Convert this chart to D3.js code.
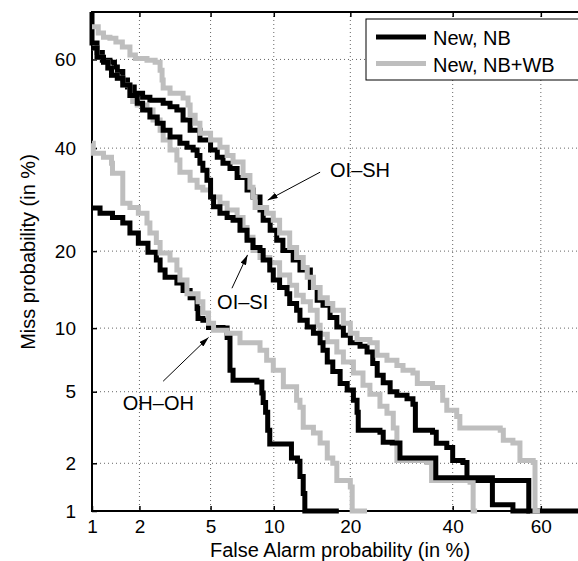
<!DOCTYPE html>
<html>
<head>
<meta charset="utf-8">
<script src="https://cdn.jsdelivr.net/npm/d3@7"></script>
<style>
  body { margin: 0; background: #fff; }
  svg { display: block; }
</style>
</head>
<body>
<div id="chart"></div>
<script>
// tick values (in %)
const faTicks = [1, 2, 5, 10, 20, 40, 60];
const missTicks = [1, 2, 5, 10, 20, 40, 60];

// DET curves, [false alarm %, miss %]
const oiShNb = [[1.0,70],[1.0,63.6],[1.08,61.5],[1.17,59.8],[1.31,59.4],[1.40,58.3],[1.46,57.3],[1.58,55.4],[1.69,53.8],[1.86,52.4],[2.09,51.5],[2.31,50.8],[2.76,50.1],[3.02,49.3],[3.30,48.6],[3.57,46.3],[3.90,44.0],[4.40,41.8],[5.0,39.6],[5.41,38.0],[5.78,36.7],[6.26,35.6],[6.78,33.7],[7.56,31.1],[8.06,29.7],[8.68,27.2],[8.97,25.3],[9.64,23.5],[10.3,21.8],[10.95,20.1],[12.1,18.6],[12.9,17.1],[14.2,14.7],[15.1,13.1],[15.9,12.5],[16.9,11.1],[17.9,10.1],[18.9,9.3],[20.0,8.6],[21.6,8.3],[22.8,7.8],[23.8,6.9],[24.6,6.05],[25.7,5.55],[27.0,5.0],[28.3,4.8],[30.3,4.6],[31.5,4.3],[32.0,3.11],[35.6,3.03],[36.4,2.62],[38.7,2.48],[40.0,2.08],[42.3,2.02],[43.2,1.57],[57.0,1.57],[57.3,1.0],[72,1.0]];
const oiShWb = [[1.0,67],[1.1,65.7],[1.19,64.8],[1.31,64.6],[1.43,63.8],[1.57,62.7],[1.75,61.0],[1.89,60.2],[2.22,59.8],[2.48,59.4],[2.65,57.6],[2.72,55.4],[2.76,53.6],[3.02,52.4],[3.57,51.3],[3.8,49.7],[3.9,47.4],[4.15,45.6],[4.4,43.3],[5.0,41.8],[5.58,40.2],[6.06,38.4],[6.48,37.0],[7.24,34.1],[7.8,31.7],[8.06,29.7],[8.24,27.7],[9.3,26.6],[9.95,25.3],[10.6,23.0],[11.7,20.6],[12.5,19.0],[13.3,17.5],[13.8,16.1],[14.6,14.7],[15.5,13.4],[16.5,12.7],[17.3,11.9],[18.9,10.5],[20.0,9.5],[21.1,8.9],[23.3,8.6],[24.6,7.55],[26.4,7.15],[28.3,6.75],[29.5,6.4],[31.5,6.2],[32.4,5.5],[35.6,5.25],[37.8,4.51],[38.7,4.0],[40.9,3.7],[41.6,3.2],[50.8,3.11],[51.5,2.73],[53.7,2.63],[55.3,2.08],[58.3,2.02],[58.7,1.0],[59.8,1.0]];
const oiSiNb = [[1.0,62.5],[1.08,60.5],[1.19,59.4],[1.27,58.1],[1.34,56.5],[1.46,55.8],[1.58,54.3],[1.75,51.9],[1.94,50.1],[2.09,48.6],[2.31,47.0],[2.55,45.6],[2.76,44.0],[3.02,42.5],[3.43,41.1],[3.75,40.2],[4.05,39.6],[4.25,38.4],[4.40,36.7],[4.56,35.2],[4.79,33.1],[5.0,29.7],[5.18,27.8],[5.58,26.6],[6.06,25.8],[6.48,25.3],[7.0,23.5],[7.56,21.8],[8.06,20.6],[8.68,20.1],[8.97,18.6],[9.6,17.1],[9.95,15.7],[10.6,14.7],[11.4,13.9],[11.7,12.7],[12.5,11.9],[12.9,10.8],[13.8,10.1],[14.6,9.5],[15.5,8.6],[15.9,7.96],[16.5,7.0],[17.3,6.3],[18.4,5.5],[19.5,5.1],[20.5,4.51],[21.1,3.9],[21.3,3.11],[25.1,3.03],[25.7,2.66],[27.4,2.63],[28.9,2.15],[36.3,2.12],[36.3,1.63],[49.0,1.53],[49.0,1.1],[53.7,1.0],[57.6,1.0]];
const oiSiWb = [[1.0,62.5],[1.08,60.5],[1.19,59.4],[1.27,58.1],[1.34,56.5],[1.46,55.8],[1.58,54.3],[1.75,51.9],[1.82,50.5],[1.94,49.7],[2.22,48.6],[2.41,46.3],[2.65,44.0],[2.76,41.8],[3.02,39.6],[3.30,37.4],[3.43,34.8],[3.90,33.1],[4.25,31.7],[4.56,31.1],[5.0,29.7],[5.58,28.5],[6.06,27.2],[6.78,25.8],[7.24,24.0],[7.56,22.3],[8.06,20.1],[8.68,19.0],[9.6,18.2],[10.6,16.4],[11.7,15.0],[12.5,13.7],[13.3,12.9],[14.2,11.9],[15.1,10.3],[15.5,9.4],[16.5,8.7],[17.9,7.8],[18.9,7.0],[20.5,6.2],[22.1,5.4],[23.3,4.85],[25.1,4.2],[26.4,3.85],[27.6,3.2],[28.3,2.48],[28.3,2.08],[34.4,2.02],[35.4,1.57],[43.9,1.53],[44.6,1.0],[45.5,1.0]];
const ohOhNb = [[1.0,27.6],[1.13,26.6],[1.36,25.8],[1.58,24.8],[1.75,23.0],[1.97,21.3],[2.25,19.8],[2.52,18.6],[2.65,17.1],[2.83,16.1],[3.30,15.3],[3.57,14.3],[3.90,13.4],[4.25,12.1],[4.30,11.0],[4.56,10.8],[4.88,10.05],[5.78,10.0],[6.06,9.1],[6.26,7.96],[6.26,6.4],[6.48,5.72],[8.4,5.6],[8.85,4.93],[8.97,4.4],[9.2,3.9],[9.4,3.11],[9.6,2.6],[11.3,2.6],[11.9,2.15],[12.6,2.06],[12.9,1.66],[13.3,1.30],[13.5,1.0],[18.2,1.0]];
const ohOhWb = [[1.0,41.1],[1.02,38.9],[1.19,38.0],[1.34,36.7],[1.36,34.6],[1.58,33.8],[1.58,28.5],[1.75,27.7],[1.97,26.6],[2.22,24.8],[2.31,23.0],[2.52,21.4],[2.65,19.7],[3.02,18.6],[3.30,17.1],[3.43,15.7],[3.75,13.9],[4.30,12.9],[4.56,11.6],[4.88,10.5],[5.18,9.8],[6.06,9.5],[7.0,8.6],[8.68,7.96],[9.3,7.15],[9.95,6.4],[11.0,5.3],[12.5,4.51],[12.9,4.15],[13.3,3.23],[14.6,3.0],[15.5,2.63],[16.5,2.15],[17.3,2.0],[17.9,1.57],[20.0,1.43],[20.3,1.0],[22.8,1.0]];

// annotation labels: text anchor, arrow start, arrow tip (all in %)
const notes = [
  { label: "OI\u2013SH", at: [16.9, 33.7], from: [15.5, 34.8], to: [9.4, 29.1] },
  { label: "OI\u2013SI", at: [5.4, 12.0], from: [6.4, 14.6], to: [7.6, 19.4] },
  { label: "OH\u2013OH", at: [1.58, 4.0], from: [2.76, 5.65], to: [4.88, 9.1] }
];

const font = "'Liberation Sans', Arial, Helvetica, sans-serif";
const black = "#000", gray = "#bebebe";

// inverse normal cdf (Acklam)
function probit(p) {
    const a = [-3.969683028665376e+01, 2.209460984245205e+02, -2.759285104469687e+02, 1.383577518672690e+02, -3.066479806614716e+01, 2.506628277459239e+00];
    const b = [-5.447609879822406e+01, 1.615858368580409e+02, -1.556989798598866e+02, 6.680131188771972e+01, -1.328068155288572e+01];
    const c = [-7.784894002430293e-03, -3.223964580411365e-01, -2.400758277161838e+00, -2.549732539343734e+00, 4.374664141464968e+00, 2.938163982698783e+00];
    const d = [7.784695709041462e-03, 3.224671290700398e-01, 2.445134137142996e+00, 3.754408661907416e+00];
    const plow = 0.02425;
    let q, r;
    if (p < plow) {
        q = Math.sqrt(-2 * Math.log(p));
        return (((((c[0]*q+c[1])*q+c[2])*q+c[3])*q+c[4])*q+c[5]) / ((((d[0]*q+d[1])*q+d[2])*q+d[3])*q+1);
    }
    if (p <= 1 - plow) {
        q = p - 0.5; r = q * q;
        return (((((a[0]*r+a[1])*r+a[2])*r+a[3])*r+a[4])*r+a[5])*q / (((((b[0]*r+b[1])*r+b[2])*r+b[3])*r+b[4])*r+1);
    }
    q = Math.sqrt(-2 * Math.log(1 - p));
    return -(((((c[0]*q+c[1])*q+c[2])*q+c[3])*q+c[4])*q+c[5]) / ((((d[0]*q+d[1])*q+d[2])*q+d[3])*q+1);
}

const margin = { top: 12, left: 92 };
const width = 496, height = 499;

const svg = d3.select("#chart").append("svg")
    .attr("width", 578)
    .attr("height", 561)
    .style("font-family", font);

svg.append("defs").append("marker")
    .attr("id", "arrow")
    .attr("viewBox", "0 0 10 6")
    .attr("refX", 10).attr("refY", 3)
    .attr("markerWidth", 10).attr("markerHeight", 6)
    .attr("markerUnits", "userSpaceOnUse")
    .attr("orient", "auto")
    .append("path").attr("d", "M0,0L10,3L0,6Z").attr("fill", black);

const g = svg.append("g").attr("transform", `translate(${margin.left},${margin.top})`);

const x = d3.scaleLinear().domain([probit(0.01), probit(0.70)]).range([0, width]);
const y = d3.scaleLinear().domain([probit(0.01), probit(0.70)]).range([height, 0]);
const fx = v => x(probit(v / 100));
const fy = v => y(probit(v / 100));

// dotted grid
g.append("g").selectAll("line").data(faTicks.slice(1)).join("line")
    .attr("x1", fx).attr("x2", fx).attr("y1", 0).attr("y2", height)
    .attr("stroke", "#666").attr("stroke-dasharray", "1,3");
g.append("g").selectAll("line").data(missTicks.slice(1)).join("line")
    .attr("y1", fy).attr("y2", fy).attr("x1", 0).attr("x2", width)
    .attr("stroke", "#666").attr("stroke-dasharray", "1,3");

// axes with inward ticks
const styleAxis = a => {
    a.select(".domain").remove();
    a.attr("font-family", font).attr("font-size", 19);
    a.selectAll(".tick line").attr("stroke-width", 1.5);
    a.selectAll("text").attr("fill", black);
};
g.append("g").attr("transform", `translate(0,${height})`)
    .call(d3.axisBottom(x).tickValues(faTicks.map(t => probit(t / 100))).tickFormat((d, i) => faTicks[i])
        .tickSizeInner(-5).tickSizeOuter(0).tickPadding(9))
    .call(styleAxis);
g.append("g")
    .call(d3.axisTop(x).tickValues(faTicks.map(t => probit(t / 100))).tickFormat("")
        .tickSizeInner(-5).tickSizeOuter(0))
    .call(styleAxis);
g.append("g")
    .call(d3.axisLeft(y).tickValues(missTicks.map(t => probit(t / 100))).tickFormat((d, i) => missTicks[i])
        .tickSizeInner(-5).tickSizeOuter(0).tickPadding(16))
    .call(styleAxis);

g.append("rect")
    .attr("width", width).attr("height", height)
    .attr("fill", "none").attr("stroke", black).attr("stroke-width", 2);

// curves: black first, gray over it (OI-SI black drawn last of its pair)
const line = d3.line().x(d => fx(d[0])).y(d => fy(d[1])).curve(d3.curveStepAfter);
const curves = [
    { data: oiShNb, color: black },
    { data: oiShWb, color: gray },
    { data: oiSiWb, color: gray },
    { data: oiSiNb, color: black },
    { data: ohOhNb, color: black },
    { data: ohOhWb, color: gray }
];
g.append("g").selectAll("path").data(curves).join("path")
    .attr("d", c => line(c.data))
    .attr("fill", "none")
    .attr("stroke", c => c.color)
    .attr("stroke-width", 5)
    .attr("stroke-linejoin", "miter");

// annotations
notes.forEach(n => {
    g.append("line")
        .attr("x1", fx(n.from[0])).attr("y1", fy(n.from[1]))
        .attr("x2", fx(n.to[0])).attr("y2", fy(n.to[1]))
        .attr("stroke", black).attr("stroke-width", 1)
        .attr("marker-end", "url(#arrow)");
    g.append("text")
        .attr("x", fx(n.at[0])).attr("y", fy(n.at[1]))
        .attr("font-size", 20)
        .text(n.label);
});

// legend
const legend = svg.append("g").attr("transform", "translate(366,19)");
legend.append("rect")
    .attr("width", 260).attr("height", 61)
    .attr("fill", "#fff").attr("stroke", black).attr("stroke-width", 1);
[["New, NB", black], ["New, NB+WB", gray]].forEach(([name, color], i) => {
    legend.append("line")
        .attr("x1", 10).attr("x2", 60)
        .attr("y1", 18 + i * 26.5).attr("y2", 18 + i * 26.5)
        .attr("stroke", color).attr("stroke-width", 5);
    legend.append("text")
        .attr("x", 67).attr("y", 26 + i * 26.5)
        .attr("font-size", 20)
        .text(name);
});

// axis titles
svg.append("text")
    .attr("x", margin.left + width / 2).attr("y", 557)
    .attr("text-anchor", "middle").attr("font-size", 20)
    .text("False Alarm probability (in %)");
svg.append("text")
    .attr("transform", "translate(35,252) rotate(-90)")
    .attr("text-anchor", "middle").attr("font-size", 20)
    .text("Miss probability (in %)");
</script>
</body>
</html>
